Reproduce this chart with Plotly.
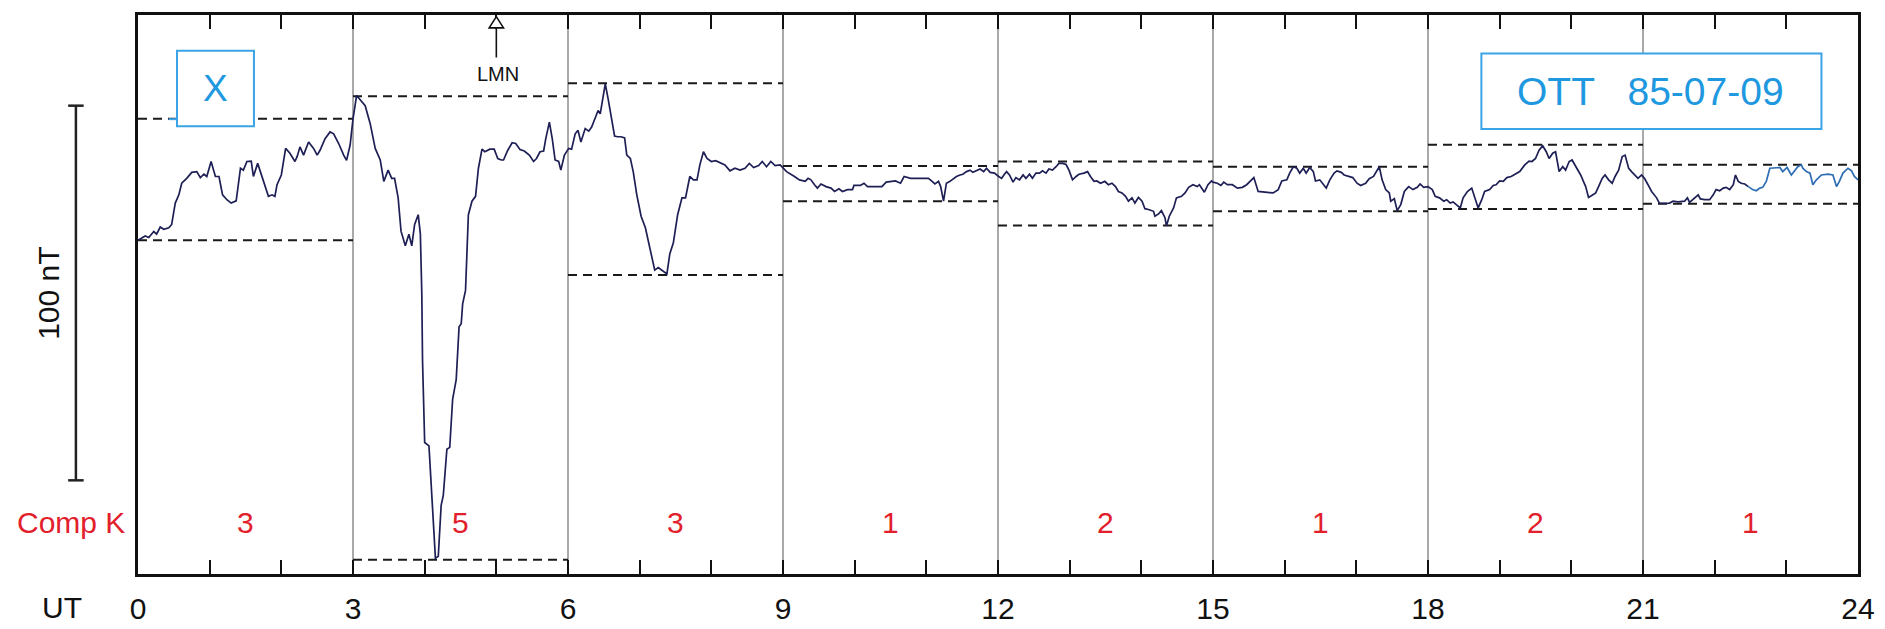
import plotly.graph_objects as go

# ---------------- data (hours UT, X component in nT relative to frame bottom) -------------
t_a = [0.0, 0.10, 0.15, 0.22, 0.26, 0.31, 0.36, 0.43, 0.47, 0.52,
       0.57, 0.61, 0.68, 0.75, 0.82, 0.87, 0.92, 0.96, 1.02, 1.08,
       1.13, 1.18, 1.24, 1.30, 1.37, 1.43, 1.47, 1.52, 1.58, 1.61,
       1.67, 1.73, 1.78, 1.82, 1.87, 1.91, 1.94, 2.00, 2.06, 2.12,
       2.19, 2.22, 2.26, 2.31, 2.38, 2.45, 2.50, 2.54, 2.61, 2.68,
       2.73, 2.80, 2.87, 2.91, 2.96, 3.00]
x_a = [89.1, 90.2, 89.8, 91.4, 90.7, 92.6, 92.0, 92.4, 93.3, 99.0,
       101.2, 104.3, 105.6, 107.2, 107.4, 105.8, 106.7, 106.1, 110.1, 106.1,
       106.1, 101.2, 99.9, 99.0, 99.6, 108.3, 107.8, 110.1, 110.2, 106.1,
       109.6, 106.1, 103.0, 100.8, 101.2, 100.8, 103.9, 106.5, 113.6, 112.3,
       110.1, 111.4, 114.0, 111.8, 115.3, 113.6, 111.8, 113.1, 116.2, 118.0,
       117.5, 114.9, 111.8, 110.4, 114.5, 121.5]

t_b = [3.05, 3.17, 3.24, 3.31, 3.38, 3.43, 3.49, 3.54, 3.58, 3.63,
       3.67, 3.73, 3.78, 3.82, 3.86, 3.91, 3.94, 3.96, 3.97, 4.00,
       4.06, 4.10, 4.15, 4.19, 4.23, 4.26, 4.31, 4.35, 4.39, 4.44,
       4.48, 4.51, 4.53, 4.57, 4.61, 4.66, 4.71, 4.75, 4.80, 4.84,
       4.91, 4.97, 5.02, 5.07, 5.10, 5.16, 5.22, 5.27, 5.33, 5.39,
       5.46, 5.52, 5.56, 5.61, 5.66, 5.69, 5.74, 5.78, 5.82, 5.87,
       5.90, 5.95, 6.01]
x_b = [127.7, 125.0, 120.2, 113.6, 110.5, 104.8, 107.8, 105.6, 105.6, 100.4,
       91.5, 87.6, 90.7, 87.6, 93.3, 95.9, 90.7, 74.8, 57.1, 35.1,
       34.2, 21.9, 4.2, 4.7, 18.3, 21.0, 33.3, 33.8, 46.6, 51.9,
       66.0, 66.8, 72.1, 75.7, 95.9, 99.5, 100.8, 108.3, 113.4, 112.7,
       113.4, 113.4, 110.9, 110.5, 110.5, 113.1, 115.1, 114.9, 113.3, 112.9,
       111.8, 110.1, 110.9, 112.7, 112.9, 116.2, 120.6, 116.2, 110.5, 110.1,
       107.8, 111.8, 113.6]

t_c = [6.05, 6.10, 6.14, 6.18, 6.24, 6.29, 6.33, 6.37, 6.42, 6.45,
       6.48, 6.52, 6.56, 6.61, 6.65, 6.69, 6.74, 6.79, 6.82, 6.87,
       6.91, 6.96, 7.02, 7.08, 7.12, 7.17, 7.21, 7.26, 7.31, 7.38,
       7.42, 7.47, 7.53, 7.59, 7.64, 7.70, 7.75, 7.80, 7.84, 7.89,
       7.94, 8.00, 8.06, 8.12, 8.19, 8.26, 8.33, 8.40, 8.47, 8.53,
       8.59, 8.66, 8.71, 8.77, 8.83, 8.89, 8.96]
x_c = [113.4, 117.5, 118.4, 115.3, 118.9, 118.2, 119.3, 121.5, 123.7, 122.8,
       126.4, 130.8, 126.8, 121.5, 116.9, 116.7, 116.7, 116.4, 111.8, 110.9,
       107.4, 101.2, 95.5, 92.4, 88.9, 85.4, 81.1, 81.8, 81.0, 80.1,
       85.4, 88.4, 95.9, 100.4, 100.4, 106.1, 105.2, 105.2, 109.2, 112.7,
       110.9, 110.1, 110.3, 109.8, 109.2, 107.6, 108.3, 107.8, 108.3, 109.6,
       108.5, 109.0, 110.1, 108.7, 110.1, 109.0, 109.2]

t_d = [9.05, 9.09, 9.16, 9.23, 9.31, 9.35, 9.39, 9.44, 9.48, 9.53,
       9.60, 9.67, 9.72, 9.78, 9.83, 9.90, 9.97, 9.99, 10.08, 10.13,
       10.18, 10.27, 10.38, 10.44, 10.52, 10.57, 10.64, 10.69, 10.78, 10.87,
       10.96, 11.03, 11.08, 11.12, 11.17, 11.20, 11.24, 11.28, 11.33, 11.38,
       11.42, 11.47, 11.51, 11.56, 11.61, 11.65, 11.70, 11.75, 11.80, 11.84,
       11.89, 11.95, 12.01, 12.05, 12.09, 12.12, 12.16, 12.21, 12.25, 12.30,
       12.35, 12.39, 12.44, 12.48, 12.53, 12.58, 12.62, 12.67, 12.71, 12.76,
       12.81, 12.85, 12.90, 12.95, 12.99, 13.04, 13.09, 13.13, 13.20, 13.25,
       13.29, 13.34, 13.38, 13.43, 13.49, 13.54, 13.59, 13.64, 13.68, 13.73,
       13.78, 13.82, 13.87, 13.91, 13.96, 14.01, 14.05, 14.10, 14.17, 14.19,
       14.24, 14.28, 14.33, 14.35, 14.39, 14.45, 14.49, 14.56, 14.61, 14.66,
       14.72, 14.78, 14.81, 14.88, 14.93, 14.98]
x_d = [107.4, 107.0, 106.1, 105.2, 104.8, 105.6, 105.2, 103.9, 103.0, 104.1,
       103.4, 103.0, 102.1, 102.8, 102.1, 102.6, 102.6, 103.7, 103.7, 104.3,
       103.4, 103.4, 103.4, 104.6, 104.8, 104.9, 104.3, 106.1, 105.6, 105.6,
       105.4, 105.6, 104.8, 104.1, 104.8, 103.4, 99.5, 104.3, 104.8, 105.6,
       106.1, 106.5, 106.7, 107.4, 107.8, 107.2, 107.6, 108.1, 107.4, 108.3,
       107.2, 107.0, 106.1, 105.6, 106.7, 107.4, 106.5, 104.6, 105.8, 105.2,
       106.5, 105.6, 106.7, 105.6, 107.0, 107.0, 107.6, 107.0, 108.1, 107.8,
       108.7, 109.6, 109.6, 109.3, 107.8, 105.2, 106.1, 106.7, 107.0, 107.4,
       106.1, 104.8, 104.9, 104.3, 104.8, 103.9, 104.3, 103.4, 102.1, 101.7,
       100.8, 99.5, 100.4, 99.0, 100.5, 99.5, 97.5, 97.3, 96.8, 95.5,
       96.1, 97.0, 95.1, 92.9, 95.5, 97.7, 100.4, 100.8, 101.7, 103.2,
       103.9, 103.4, 103.9, 101.9, 103.9, 104.9]

t_e = [15.00, 15.06, 15.11, 15.15, 15.20, 15.27, 15.34, 15.41, 15.47, 15.52,
       15.57, 15.63, 15.71, 15.77, 15.84, 15.91, 15.96, 16.03, 16.07, 16.12,
       16.17, 16.21, 16.26, 16.30, 16.35, 16.40, 16.43, 16.49, 16.53, 16.58,
       16.63, 16.69, 16.73, 16.79, 16.83, 16.89, 16.95, 17.01, 17.06, 17.13,
       17.18, 17.24, 17.32, 17.36, 17.41, 17.46, 17.48, 17.53, 17.57, 17.62,
       17.67, 17.73, 17.79, 17.85, 17.89, 17.94, 18.00, 18.06, 18.10, 18.16,
       18.22, 18.26, 18.31, 18.35, 18.40, 18.45, 18.49, 18.55, 18.61, 18.65,
       18.70, 18.75, 18.79, 18.86, 18.91, 18.95, 19.00, 19.05, 19.10, 19.16,
       19.23, 19.28, 19.35, 19.41, 19.45, 19.50, 19.55, 19.60, 19.65, 19.69,
       19.74, 19.78, 19.83, 19.88, 19.92, 19.97, 20.01, 20.06, 20.13, 20.20,
       20.24, 20.29, 20.34, 20.38, 20.43, 20.47, 20.52, 20.57, 20.61, 20.66,
       20.71, 20.75, 20.80, 20.84]
x_e = [104.6, 104.3, 103.7, 104.6, 103.9, 103.9, 103.0, 103.2, 103.9, 104.8,
       105.8, 102.1, 101.9, 101.7, 101.7, 102.6, 104.9, 105.2, 107.0, 108.7,
       108.3, 107.0, 108.3, 107.0, 108.5, 107.4, 104.9, 105.2, 104.3, 103.0,
       105.2, 107.0, 107.6, 107.2, 106.5, 106.1, 105.8, 104.3, 103.7, 104.3,
       105.5, 106.1, 108.7, 105.2, 102.6, 101.7, 99.5, 100.2, 97.0, 98.6,
       102.1, 103.4, 102.6, 103.2, 104.1, 103.2, 103.4, 102.6, 100.8, 100.4,
       99.5, 99.9, 99.0, 99.3, 98.4, 97.7, 100.4, 102.1, 103.0, 100.5,
       97.7, 99.9, 102.1, 102.6, 103.7, 103.9, 104.9, 104.8, 105.8, 106.1,
       107.0, 107.4, 109.2, 110.2, 110.1, 110.9, 113.1, 114.3, 112.7, 110.9,
       112.3, 112.7, 107.4, 108.7, 107.8, 110.1, 110.5, 108.7, 106.5, 103.4,
       100.5, 101.1, 101.7, 103.4, 105.6, 106.5, 105.2, 104.3, 106.1, 107.8,
       111.4, 111.8, 108.3, 107.4]

t_f = [20.88, 20.93, 20.98, 21.02, 21.07, 21.12, 21.19, 21.23, 21.30, 21.37,
       21.42, 21.49, 21.58, 21.62, 21.65, 21.72, 21.77, 21.80, 21.86, 21.93,
       21.98, 22.02, 22.07, 22.12, 22.16, 22.21, 22.26, 22.29, 22.33, 22.37,
       22.42, 22.47]
x_f = [106.5, 105.6, 106.5, 105.6, 103.9, 102.1, 100.4, 98.9, 98.9, 99.0,
       99.5, 99.3, 99.5, 100.4, 99.2, 100.4, 101.2, 100.1, 99.9, 99.9,
       101.2, 102.6, 102.3, 103.0, 103.2, 102.6, 103.9, 106.5, 104.8, 104.3,
       104.1, 103.4]

# last part of the trace, printed in a lighter blue ink
t_g = [22.47, 22.53, 22.58, 22.63, 22.67, 22.72, 22.77, 22.84, 22.91, 22.95,
       23.01, 23.07, 23.12, 23.16, 23.21, 23.23, 23.28, 23.33, 23.37, 23.42,
       23.49, 23.58, 23.65, 23.70, 23.74, 23.79, 23.86, 23.91, 23.95, 24.00]
x_g = [103.4, 102.6, 102.3, 103.0, 103.2, 104.8, 108.3, 108.5, 108.5, 107.4,
       108.5, 106.5, 107.8, 108.7, 109.2, 108.3, 107.4, 107.0, 103.9, 105.2,
       106.5, 106.7, 106.5, 103.4, 104.8, 107.0, 108.3, 107.6, 106.1, 105.2]

# 3-hour intervals: K index and the range limits (dashed lines)
seg_start = [0, 3, 6, 9, 12, 15, 18, 21]
k_index = [3, 5, 3, 1, 2, 1, 2, 1]
seg_max = [121.5, 127.5, 131.0, 108.9, 110.1, 108.7, 114.6, 109.2]
seg_min = [89.1, 3.8, 79.8, 99.5, 93.0, 96.8, 97.4, 98.8]

scale_bar_nT = 100
scale_bar_base = 25
y_range = [0, 149.2]
tick_hours = list(range(25))
tick_text = [str(h) if h % 3 == 0 else "" for h in tick_hours]

station_label = "OTT\u00a0\u00a0\u00a085-07-09"
component_label = "X"

# ---------------- figure -------------------------------------------------------------------
FONT = "Liberation Sans, Arial, Helvetica, sans-serif"
INK = "#1d1f55"
BLUE_INK = "#2d6db3"
CYAN = "#1e98df"
BOX = "#3ba4e6"
RED = "#e2202b"

fig = go.Figure()

# dashed range lines
dx, dy = [], []
for s, hi, lo in zip(seg_start, seg_max, seg_min):
    dx += [s, s + 3, None, s, s + 3, None]
    dy += [hi, hi, None, lo, lo, None]
fig.add_trace(go.Scatter(x=dx, y=dy, mode="lines", hoverinfo="skip",
                         line=dict(color="#1a1a1a", width=2, dash="9px,6px")))

t_dark = t_a + t_b + t_c + t_d + t_e + t_f
x_dark = x_a + x_b + x_c + x_d + x_e + x_f
fig.add_trace(go.Scatter(x=t_dark, y=x_dark, mode="lines",
                         line=dict(color=INK, width=1.7)))
fig.add_trace(go.Scatter(x=t_g, y=x_g, mode="lines",
                         line=dict(color=BLUE_INK, width=1.7)))

shapes = []
# thin vertical separators every 3 hours
for s in seg_start[1:]:
    shapes.append(dict(type="line", xref="x", yref="paper", x0=s, x1=s, y0=0, y1=1,
                       line=dict(color="#555555", width=1), layer="below"))

# 100 nT scale bar (left margin)
bx = -0.0361
shapes.append(dict(type="line", xref="paper", yref="y", x0=bx, x1=bx,
                   y0=scale_bar_base, y1=scale_bar_base + scale_bar_nT,
                   line=dict(color="#222222", width=2.5)))
for yv in (scale_bar_base, scale_bar_base + scale_bar_nT):
    shapes.append(dict(type="line", xref="paper", yref="y", x0=bx - 0.0045, x1=bx + 0.0045,
                       y0=yv, y1=yv, line=dict(color="#222222", width=2.5)))

# component box
shapes.append(dict(type="line", xref="x", yref="y", x0=0.43, x1=0.55, y0=121.4, y1=121.4,
                   line=dict(color=BOX, width=2), layer="above"))
shapes.append(dict(type="rect", xref="x", yref="paper", x0=0.544, x1=1.618, y0=0.801, y1=0.936,
                   line=dict(color=BOX, width=2), fillcolor="white", layer="above"))
# station / date box
shapes.append(dict(type="rect", xref="x", yref="paper", x0=18.745, x1=23.49, y0=0.796, y1=0.931,
                   line=dict(color=BOX, width=2), fillcolor="white", layer="above"))

# LMN arrow at 05 UT
shapes.append(dict(type="line", xref="x", yref="paper", x0=5, x1=5, y0=0.924, y1=0.977,
                   line=dict(color="#111111", width=1.6)))
shapes.append(dict(type="path", xref="x", yref="paper",
                   path="M 4.9,0.977 L 5,0.997 L 5.1,0.977 Z",
                   line=dict(color="#111111", width=1.6), fillcolor="white"))

annotations = [
    dict(text=component_label, x=1.078, y=0.868, xref="x", yref="paper", showarrow=False,
         font=dict(family=FONT, size=37, color=CYAN), xanchor="center", yanchor="middle"),
    dict(text=station_label, x=21.1, y=0.8635, xref="x", yref="paper", showarrow=False,
         font=dict(family=FONT, size=39, color=CYAN), xanchor="center", yanchor="middle"),
    dict(text="LMN", x=5.02, y=0.894, xref="x", yref="paper", showarrow=False,
         font=dict(family=FONT, size=20, color="#111111"), xanchor="center", yanchor="middle"),
    dict(text="100 nT", x=-0.0524, y=scale_bar_base + scale_bar_nT / 2, xref="paper", yref="y",
         showarrow=False, textangle=-90,
         font=dict(family=FONT, size=30, color="#111111"), xanchor="center", yanchor="middle"),
    dict(text="Comp K", x=-0.0390, y=0.0922, xref="paper", yref="paper", showarrow=False,
         font=dict(family=FONT, size=30, color=RED), xanchor="center", yanchor="middle"),
    dict(text="UT", x=-0.0442, y=-0.0603, xref="paper", yref="paper", showarrow=False,
         font=dict(family=FONT, size=30, color="#111111"), xanchor="center", yanchor="middle"),
]
for s, k in zip(seg_start, k_index):
    annotations.append(dict(text=str(k), x=s + 1.5, y=0.0922, xref="x", yref="paper",
                            showarrow=False, font=dict(family=FONT, size=30, color=RED),
                            xanchor="center", yanchor="middle"))

# the page body has an 8px margin: the figure is sized/offset so the frame lands
# where it sits in the reference picture
fig.update_layout(
    width=1877, height=621,
    margin=dict(l=130, r=27, t=4, b=53),
    paper_bgcolor="white", plot_bgcolor="white",
    showlegend=False,
    shapes=shapes, annotations=annotations,
    xaxis=dict(range=[0, 24], tickmode="array", tickvals=tick_hours, ticktext=tick_text,
               ticks="inside", ticklen=14, tickwidth=2, tickcolor="#111111",
               showline=True, linewidth=3, linecolor="#111111", mirror="ticks",
               showgrid=False, zeroline=False, ticklabelstandoff=6,
               tickfont=dict(family=FONT, size=30, color="#111111")),
    yaxis=dict(range=y_range, showline=True, linewidth=3, linecolor="#111111", mirror=True,
               ticks="", showticklabels=False, showgrid=False, zeroline=False),
)

fig.write_html("out.html")
